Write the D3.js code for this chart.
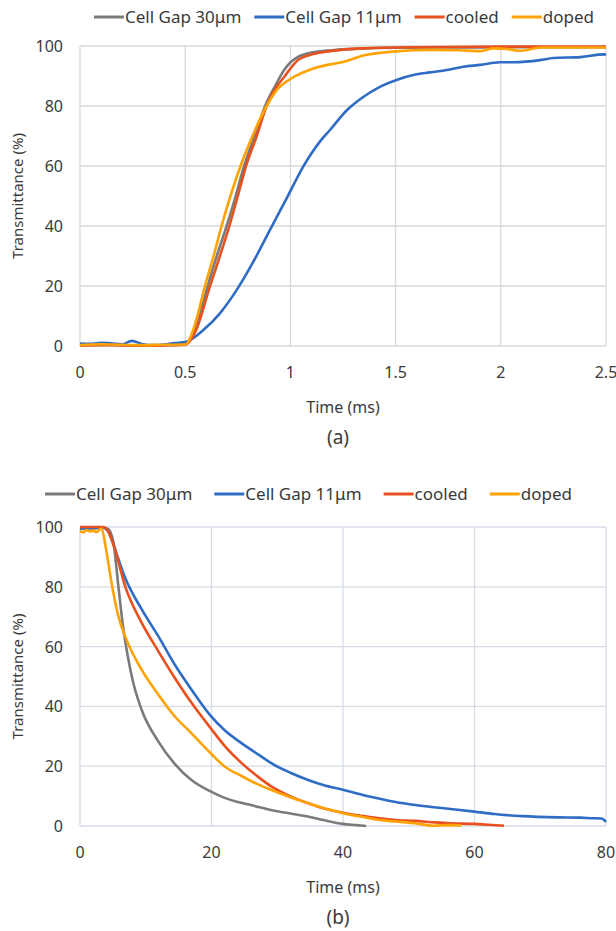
<!DOCTYPE html>
<html>
<head>
<meta charset="utf-8">
<script src="https://cdn.jsdelivr.net/npm/d3@7"></script>
<style>
  body { margin: 0; background: #fff; }
  text { font-family: "Noto Sans", "Open Sans", sans-serif; fill: #3a3a3a; }
</style>
</head>
<body>
<div class="main"></div>
<script>
////Data
const seriesNames = ['Cell Gap 30μm', 'Cell Gap 11μm', 'cooled', 'doped'];
const seriesColors = ['#7b7b7b', '#2f6cc4', '#e8501e', '#ffa305'];

const yTicks = [0, 20, 40, 60, 80, 100];
const xTicksA = [0, 0.5, 1, 1.5, 2, 2.5];
const xTicksB = [0, 20, 40, 60, 80];

// panel (a): [time ms, transmittance %]
const gap30A = [[0,0.3],[0.1,0.5],[0.2,0.3],[0.3,0.2],[0.4,0.3],[0.5,0.5],[0.55,6],[0.607,20],[0.65,30],[0.697,40],[0.74,50],[0.78,60],[0.83,70],[0.88,80],[0.93,87],[0.97,92],[1.0,94.5],[1.04,96.5],[1.1,97.8],[1.2,98.6],[1.35,99.2],[1.5,99.4],[1.8,99.5],[2.2,99.6],[2.5,99.6]];
const gap11A = [[0,0.8],[0.05,0.7],[0.1,1.1],[0.15,0.9],[0.2,0.6],[0.246,1.7],[0.3,0.6],[0.35,0.3],[0.4,0.5],[0.45,1.0],[0.5,1.3],[0.586,5.3],[0.665,10.9],[0.745,18.7],[0.824,28.1],[0.903,38.7],[0.982,49.2],[1.061,59.8],[1.141,68.2],[1.188,72],[1.267,78.5],[1.346,83],[1.425,86.4],[1.504,88.7],[1.584,90.3],[1.664,91.2],[1.743,92],[1.822,93.1],[1.902,93.7],[1.997,94.6],[2.06,94.6],[2.187,95.3],[2.25,96.0],[2.378,96.3],[2.49,97.2],[2.5,97.1]];
const cooledA = [[0,0.2],[0.1,0.3],[0.2,0.2],[0.3,0.1],[0.4,0.2],[0.5,0.4],[0.55,5],[0.618,20],[0.665,30],[0.71,40],[0.75,50],[0.789,60],[0.84,70],[0.887,80],[0.93,86],[0.974,90],[1.0,92.5],[1.04,95.5],[1.109,97.3],[1.188,98.3],[1.346,99.2],[1.58,99.6],[2.0,99.8],[2.5,99.8]];
const dopedA = [[0,0.3],[0.1,0.6],[0.2,0.4],[0.3,0.3],[0.4,0.4],[0.5,0.5],[0.55,8],[0.594,20],[0.635,30],[0.673,40],[0.715,50],[0.763,60],[0.82,70],[0.887,80],[0.935,85.3],[1.0,89],[1.109,92.5],[1.267,95],[1.346,96.8],[1.5,98.2],[1.664,98.7],[1.8,98.6],[1.902,98.3],[1.966,99.2],[2.03,99],[2.09,98.4],[2.19,99.5],[2.5,99.5]];

// panel (b)
const gap30B = [[0,99.5],[2,99.6],[3.5,99.8],[4.3,99.3],[5.07,95],[5.83,80.3],[6.6,65.8],[7.36,55.7],[8.1,47.9],[9.37,38.9],[11.9,28.3],[14.4,20.8],[17,15.3],[20,11.4],[22,9.4],[24,8.0],[26,7],[29.4,5.2],[32,4.2],[34.8,3.1],[37,2],[40,0.7],[42,0.3],[43.5,0]];
const gap11B = [[0,99.5],[2,99.6],[3.5,99.8],[4.3,98.5],[5.83,89.3],[6.85,83.1],[9.37,72.5],[11.9,63.5],[14.4,54],[16.96,45.6],[19.85,36.9],[22,32],[24.5,27.8],[27.2,23.8],[29.4,20.6],[32,17.8],[34.8,15.3],[37,13.7],[40,12.1],[43,10.4],[45.6,9.1],[48,8],[51,7],[55,6],[60,4.8],[63,4],[67.3,3.3],[72.7,2.9],[76,2.8],[78,2.6],[79.3,2.5],[80,1.4]];
const cooledB = [[0,100],[3.5,100],[4.3,98.5],[5.3,92.6],[6.85,80.3],[9.37,68],[11.9,58.5],[14.4,49.6],[16.96,41.2],[19.85,32.8],[22,26.8],[24.5,21.2],[27,16.6],[29.4,12.8],[32,9.9],[34.8,7.5],[37,5.9],[40,4.4],[43,3.3],[45.6,2.6],[48,2],[51,1.7],[54,1.2],[56.4,0.9],[60,0.7],[62,0.4],[64.5,0.1]];
const dopedB = [[0,98.7],[0.5,98.2],[1,99],[1.5,98.5],[2,98.8],[2.5,98.3],[3,99.2],[3.3,99.5],[3.87,93.7],[4.88,80.3],[5.83,70.2],[6.85,63.5],[9.37,52.3],[11.9,44],[14.4,36.7],[16.96,31],[19.85,24.4],[22,19.9],[24.5,16.8],[27,14],[29.4,11.8],[32,9.6],[34.8,7.6],[37,6],[40,4.3],[43,3],[45.6,2],[48,1.5],[51,0.9],[53.7,0.1],[56,0.3],[58,0.2]];

////Globals
const width = 616;
const height = 931;
const svg = d3.select('.main').append('svg')
  .attr('width', width)
  .attr('height', height);

function drawPanel(opt) {
  const x = d3.scaleLinear().domain(opt.xDomain).range([80, 606]);
  const y = d3.scaleLinear().domain([0, 100]).range([opt.bottom, opt.top]);
  const g = svg.append('g');

  // grid
  g.append('g').selectAll('line')
    .data(opt.xTicks)
    .enter().append('line')
    .attr('x1', d => x(d)).attr('x2', d => x(d))
    .attr('y1', y(0)).attr('y2', y(100))
    .attr('stroke', opt.grid).attr('stroke-width', 1.3);
  g.append('g').selectAll('line')
    .data(yTicks)
    .enter().append('line')
    .attr('x1', x.range()[0]).attr('x2', x.range()[1])
    .attr('y1', d => y(d)).attr('y2', d => y(d))
    .attr('stroke', opt.grid).attr('stroke-width', 1.3);

  // tick labels
  g.append('g').selectAll('text')
    .data(yTicks)
    .enter().append('text')
    .attr('x', 63)
    .attr('y', d => y(d) + 6)
    .attr('text-anchor', 'end')
    .style('font-size', '16px')
    .text(d => d);
  g.append('g').selectAll('text')
    .data(opt.xTicks)
    .enter().append('text')
    .attr('x', d => x(d))
    .attr('y', y(0) + 32)
    .attr('text-anchor', 'middle')
    .style('font-size', '16px')
    .text(d => d);

  g.append('text')
    .attr('x', 343).attr('y', y(0) + 67)
    .attr('text-anchor', 'middle')
    .style('font-size', '16px')
    .text('Time (ms)');
  g.append('text')
    .attr('transform', `translate(23,${(y(0) + y(100)) / 2}) rotate(-90)`)
    .attr('text-anchor', 'middle')
    .style('font-size', '15px')
    .text('Transmittance (%)');
  g.append('text')
    .attr('x', 338).attr('y', y(0) + 98)
    .attr('text-anchor', 'middle')
    .style('font-size', '19px')
    .text(opt.caption);

  // lines
  const line = d3.line()
    .x(d => x(d[0]))
    .y(d => y(d[1]))
    .curve(d3.curveMonotoneX);
  opt.series.forEach((s, i) => {
    g.append('path')
      .datum(s)
      .attr('d', line)
      .attr('fill', 'none')
      .attr('stroke', seriesColors[i])
      .attr('stroke-width', 2.6)
      .attr('stroke-linejoin', 'round');
  });

  // legend
  const leg = g.append('g');
  let lx = opt.legendX;
  seriesNames.forEach((name, i) => {
    leg.append('line')
      .attr('x1', lx).attr('x2', lx + 30)
      .attr('y1', opt.legendY).attr('y2', opt.legendY)
      .attr('stroke', seriesColors[i]).attr('stroke-width', 3);
    const t = leg.append('text')
      .attr('x', lx + 31).attr('y', opt.legendY + 6)
      .style('font-size', '17px')
      .text(name);
    lx += 31 + t.node().getComputedTextLength() + opt.legendGap;
  });
}

drawPanel({
  xDomain: [0, 2.5], xTicks: xTicksA, top: 46, bottom: 346,
  grid: '#d9d9d9', caption: '(a)',
  series: [gap30A, gap11A, cooledA, dopedA],
  legendX: 94, legendY: 17, legendGap: 13
});
drawPanel({
  xDomain: [0, 80], xTicks: xTicksB, top: 527, bottom: 826,
  grid: '#d6dbe6', caption: '(b)',
  series: [gap30B, gap11B, cooledB, dopedB],
  legendX: 45, legendY: 494, legendGap: 22
});
</script>
</body>
</html>
